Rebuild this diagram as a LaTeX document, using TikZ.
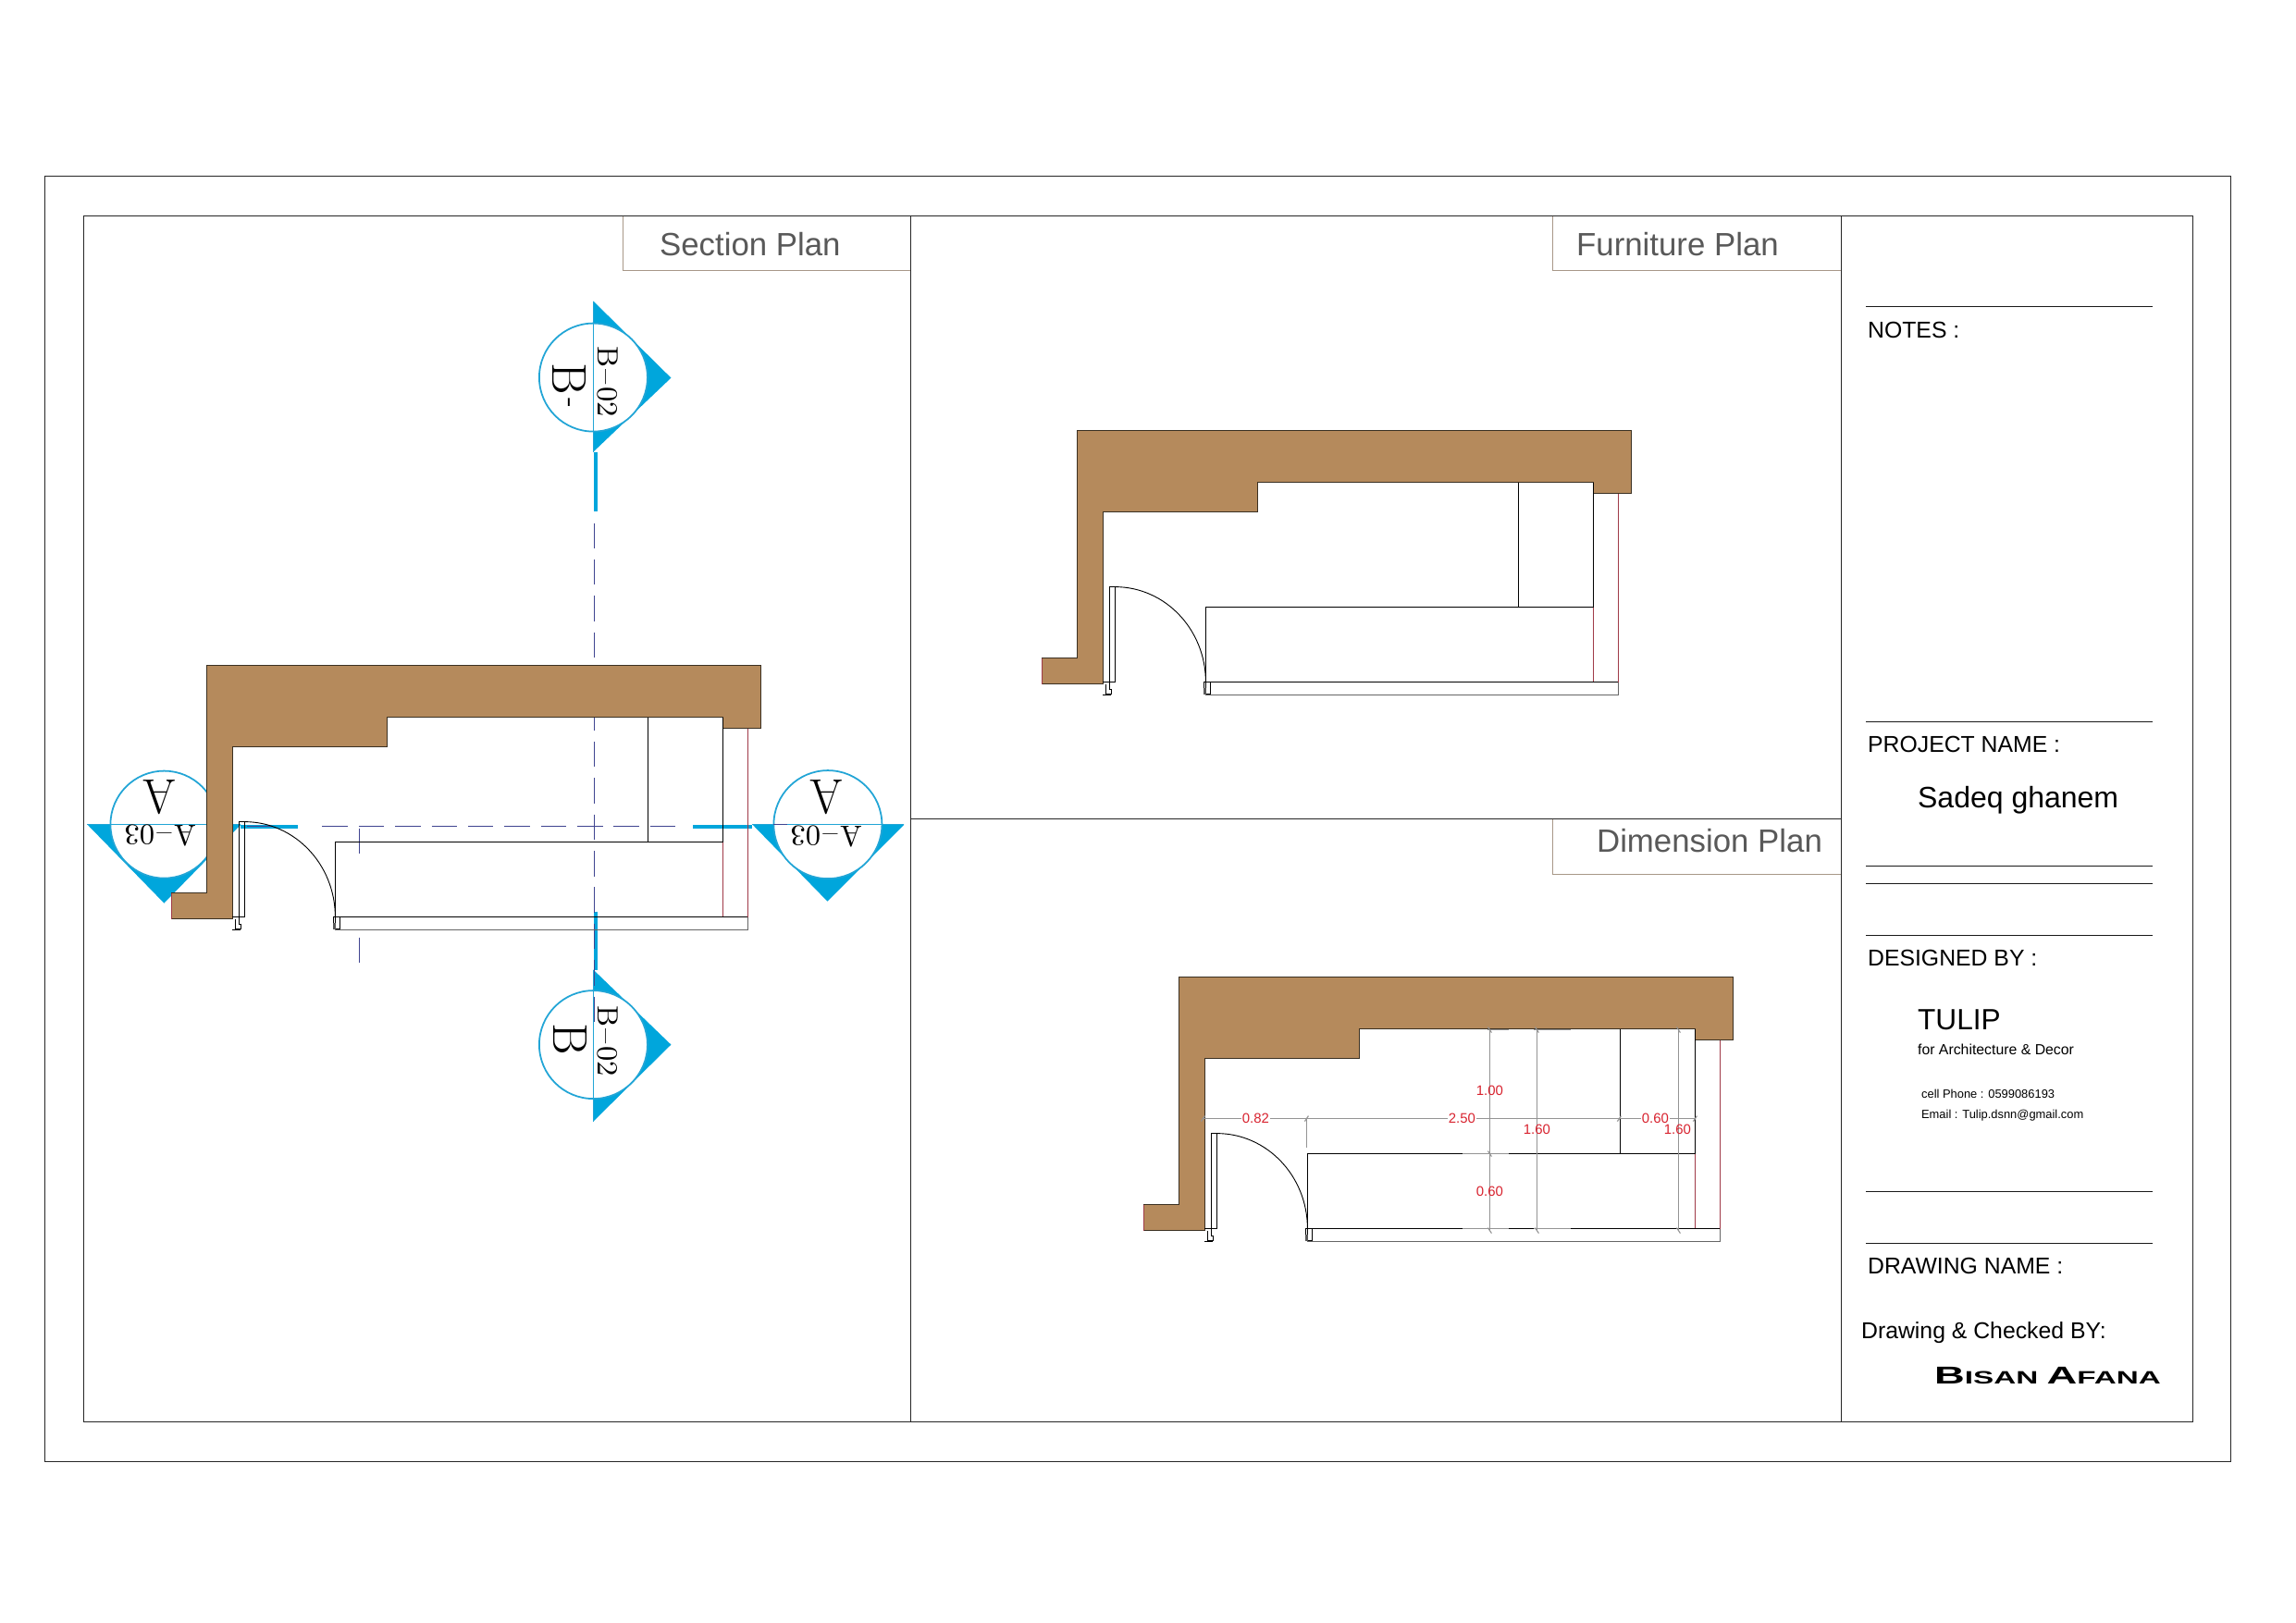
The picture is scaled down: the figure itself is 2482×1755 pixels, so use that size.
\documentclass[tikz,border=0pt]{standalone}
\usepackage{fontspec}
\usepackage{graphicx}
\newfontfamily\arial{Liberation Sans}
\newcommand{\fs}[1]{\fontsize{#1}{#1}\selectfont}
\definecolor{wallfill}{HTML}{B58A5C}
\definecolor{wallline}{HTML}{3A3022}
\definecolor{secblue}{HTML}{00A6DC}
\definecolor{circblue}{HTML}{22A5D6}
\definecolor{dashblue}{HTML}{3F4490}
\definecolor{redline}{HTML}{A03A48}
\definecolor{tabline}{HTML}{A89888}
\definecolor{tabtext}{HTML}{595959}
\definecolor{dimgrey}{HTML}{949494}
\definecolor{dimred}{HTML}{D8222E}
\tikzset{
  framel/.style={draw=black!85,line width=0.4pt},
  panel/.style={draw=black!85,line width=0.34pt},
  rule/.style={draw=black!90,line width=0.36pt},
  tabl/.style={draw=tabline,line width=0.36pt},
  tabtitle/.style={font=\arial\fs{9.9},text=tabtext,anchor=base west,inner sep=0pt},
  infotext/.style={font=\arial\fs{7.05},anchor=base west,inner sep=0pt},
  wall/.style={fill=wallfill,draw=wallline,line width=0.38pt},
  fine/.style={draw=black,line width=0.33pt},
  finer/.style={draw=black,line width=0.26pt},
  redl/.style={draw=redline,line width=0.33pt},
  wedge/.style={fill=secblue,draw=none},
  seccircle/.style={fill=white,draw=circblue,line width=0.5pt},
  secline/.style={draw=circblue,line width=0.5pt},
  thick blue/.style={draw=secblue,line width=1.2pt},
  dashl/.style={draw=dashblue,line width=0.38pt,dash pattern=on 7.8pt off 3.4pt},
  bigletter/.style={font=\fs{15},inner sep=0pt},
  refmark/.style={font=\fs{9},inner sep=0pt},
  diml/.style={draw=dimgrey,line width=0.32pt},
  dimh/.style={draw=dimgrey,line width=0.45pt},
  dimlab/.style={font=\arial\fs{4.25},text=dimred,inner sep=0.3pt},
  dimlabw/.style={dimlab,fill=white}
}
% one room plan, drawn in the coordinates of the Section Plan copy
\newcommand{\roomplan}{%
  \draw[redl] (781,787) -- (781,991);
  \draw[redl] (808,787) -- (808,991);
  \draw[wall] (223,719) -- (822,719) -- (822,787) -- (781,787) -- (781,775) -- (418,775) -- (418,807) -- (251,807) -- (251,993) -- (185,993) -- (185,965) -- (223,965) -- cycle;
  \draw[draw=redline,line width=0.5pt] (185,965) -- (185,993);
  \draw[fine] (781,775) -- (781,910);
  \draw[fine] (700,775) -- (700,910);
  \draw[fine] (362,1003) -- (362,910) -- (781,910);
  \draw[fine] (362,991) -- (808,991);
  \draw[draw=black!60,line width=0.4pt] (362,1005) -- (808,1005) -- (808,991);
  \draw[finer] (258,991) rectangle (264,888);
  \draw[finer] (264,888) arc[start angle=90,end angle=0,x radius=98,y radius=-103];
  \draw[finer] (251,991) -- (258,991);
  \draw[finer] (254,993) -- (254,1004) -- (260,1004) -- (260,999) -- (258,999) -- (258,991);
  \draw[finer] (251,1005) -- (260,1005);
  \draw[finer] (360,991) rectangle (367,1004);
  \fill[black!65] (360,997) rectangle (362.5,1004);
}
\begin{document}
\begin{tikzpicture}[x=0.01cm,y=-0.01cm]
\useasboundingbox (0,0) rectangle (2482,1755);
\fill[white] (0,0) rectangle (2482,1755);
\begin{scope}[shift={(0.4,0.6)}]
% sheet frames
\draw[framel] (48,190) rectangle (2411,1580);
\draw[panel] (90,233) rectangle (2370,1537);
\draw[panel] (984,233) -- (984,1537);
\draw[panel] (1990,233) -- (1990,1537);
\draw[panel] (984,885) -- (1990,885);
% title tabs
\draw[tabl] (673,233) -- (673,292) -- (984,292);
\draw[tabl] (1678,233) -- (1678,292) -- (1990,292);
\draw[tabl] (1678,885) -- (1678,945) -- (1990,945);
\node[tabtitle] (tsec) at (712,276) {Section Plan};
\node[tabtitle] (tfur) at (1703,276) {Furniture Plan};
\node[tabtitle] (tdim) at (1725,921) {Dimension Plan};
% section markers
\fill[wedge] (94,891) -- (260,891) -- (177,976) -- cycle;
\draw[seccircle] (177,891) circle (58);
\draw[secline] (94,891) -- (260,891);
\draw[thick blue] (260,893.5) -- (322,893.5);
\node[bigletter,rotate=180] (al) at (172,862) {A};
\node[refmark,rotate=180] (alr) at (173,903) {A\kern0.6pt--\kern0.6pt03};
\fill[wedge] (813,891) -- (977,891) -- (894,974) -- cycle;
\draw[seccircle] (894.5,891) circle (58.5);
\draw[secline] (813,891) -- (977,891);
\draw[thick blue] (749,893.5) -- (813,893.5);
\node[bigletter,rotate=180] (ar) at (893,862) {A};
\node[refmark,rotate=180] (arr) at (893,904) {A\kern0.6pt--\kern0.6pt03};
\fill[wedge] (641,325) -- (725,408) -- (641,488) -- cycle;
\draw[seccircle] (641,407.5) circle (58.5);
\draw[secline] (641,325) -- (641,488);
\draw[thick blue] (643.5,488) -- (643.5,552);
\node[bigletter,rotate=-90] (bt) at (615,416) {B\kern1pt{\fs{9}\raisebox{3.2pt}{-}}};
\node[refmark,rotate=-90] (btr) at (657,412) {B\kern0.6pt--\kern0.6pt02};
\fill[wedge] (641,1048) -- (725,1129) -- (641,1212) -- cycle;
\draw[seccircle] (641,1129) circle (58.5);
\draw[secline] (641,1048) -- (641,1212);
\draw[thick blue] (643.5,985) -- (643.5,1048);
\node[bigletter,rotate=-90] (bb) at (616,1123) {B};
\node[refmark,rotate=-90] (bbr) at (657,1125) {B\kern0.6pt--\kern0.6pt02};
% cutting lines
\draw[dashl] (348,893) -- (732,893);
\draw[dashl] (267,893) -- (297,893);
\draw[dashl] (836,891) -- (851,891);
\draw[dashl] (642,565) -- (642,1110);
\draw[dashl] (388,895) -- (388,923);
\draw[dashl] (388,1013) -- (388,1042);
% the three plans
\roomplan
\begin{scope}[shift={(941,-254)}]\roomplan\end{scope}
\begin{scope}[shift={(1051,337)}]\roomplan\end{scope}
% dimensions
\draw[dimh] (1300,1209) -- (1832,1209);
\draw[diml] (1412,1209) -- (1412,1240);
\draw[diml] (1610,1113) -- (1610,1330);
\draw[diml] (1661,1113) -- (1661,1330);
\draw[diml] (1814,1113) -- (1814,1330);
\draw[diml] (1608,1113) -- (1631,1113) (1658,1113) -- (1698,1113);
\draw[diml] (1581,1247) -- (1631,1247);
\draw[diml] (1581,1328) -- (1631,1328) (1658,1328) -- (1698,1328);
\foreach \tx in {1300,1412,1750,1832}{\draw[diml] (\tx-2,1212) -- (\tx+2,1206);}
\foreach \tx/\ty in {1610/1113,1661/1113,1814/1113,1610/1247,1610/1330,1661/1330,1814/1330}{\draw[diml] (\tx-2,\ty-3) -- (\tx+2,\ty+3);}
\node[dimlab] (d1) at (1610,1179) {1.00};
\node[dimlabw] (d2) at (1357,1209) {0.82};
\node[dimlabw] (d3) at (1580,1209) {2.50};
\node[dimlab] (d4) at (1661,1221) {1.60};
\node[dimlabw] (d5) at (1789,1209) {0.60};
\node[dimlab] (d6) at (1813,1221) {1.60};
\node[dimlab] (d7) at (1610,1288) {0.60};
% title block
\foreach \ry in {331,780,936,955,1011,1288,1344}{\draw[rule] (2017,\ry) -- (2327,\ry);}
\node[infotext] (notes) at (2018,365) {NOTES :};
\node[infotext] (pname) at (2018,813) {PROJECT NAME :};
\node[infotext,font=\arial\fs{9.1}] (sadeq) at (2072,873) {Sadeq ghanem};
\node[infotext] (desby) at (2018,1044) {DESIGNED BY :};
\node[infotext,font=\arial\fs{9}] (tulip) at (2072,1113) {TULIP};
\node[infotext,font=\arial\fs{4.5}] (forarch) at (2072,1140) {for Architecture \& Decor};
\node[infotext,font=\arial\fs{3.67}] (cell) at (2076,1187) {cell Phone : 0599086193};
\node[infotext,font=\arial\fs{3.67}] (email) at (2076,1209) {Email : Tulip.dsnn@gmail.com};
\node[infotext] (dname) at (2018,1377) {DRAWING NAME :};
\node[infotext] (dcheck) at (2011,1447) {Drawing \& Checked BY:};
\node[infotext,font=\arial] (bisan) at (2090,1496) {\scalebox{1.72}[1]{\bfseries\fs{7.5}B\fs{5.5}ISAN \fs{7.5}A\fs{5.5}FANA}};
\end{scope}
\end{tikzpicture}
\end{document}
